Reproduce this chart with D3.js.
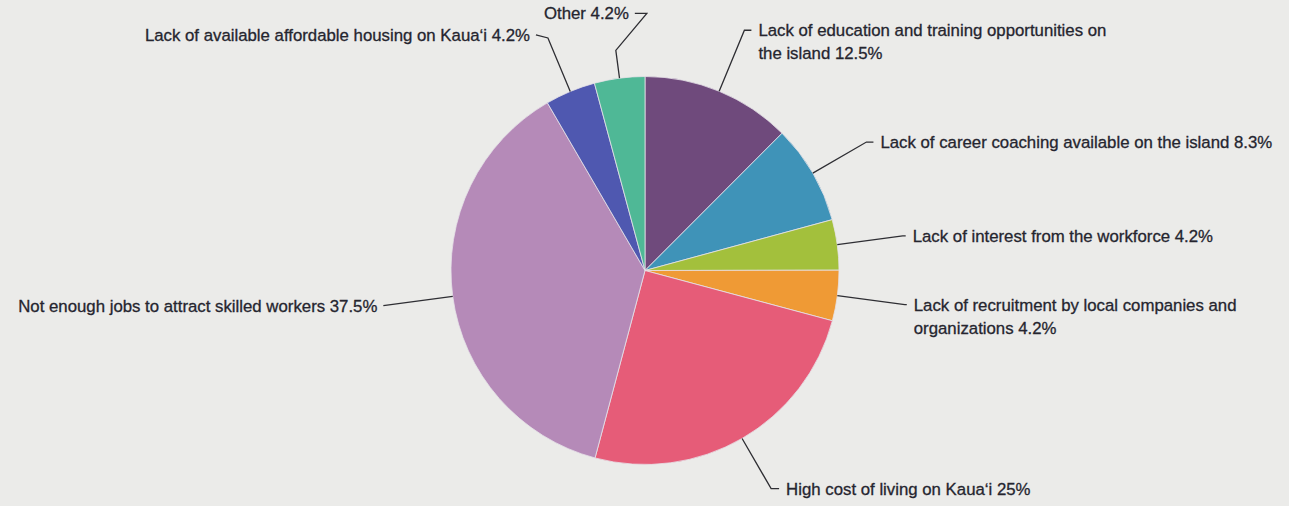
<!DOCTYPE html>
<html>
<head>
<meta charset="utf-8">
<script src="https://cdn.jsdelivr.net/npm/d3@7"></script>
<style>
  html, body { margin: 0; padding: 0; background: #ebebe9; }
  svg { display: block; }
  .label { font-family: "Liberation Sans", Arial, Helvetica, sans-serif; font-size: 16.8px; fill: #25252f; stroke: #25252f; stroke-width: 0.3; }
  .leader { fill: none; stroke: #2e2e33; stroke-width: 1.3; }
</style>
</head>
<body>
<svg id="chart"></svg>
<script>
(function(){

// data (clockwise from 12 o'clock)
var categories = [
  "Lack of education and training opportunities on\nthe island",
  "Lack of career coaching available on the island",
  "Lack of interest from the workforce",
  "Lack of recruitment by local companies and\norganizations",
  "High cost of living on Kauaʻi",
  "Not enough jobs to attract skilled workers",
  "Lack of available affordable housing on Kauaʻi",
  "Other"
];
var values = [12.5, 8.3, 4.2, 4.2, 25, 37.5, 4.2, 4.2];
var colors = ["#6f4a7c", "#3f93b8", "#a3c03c", "#ef9a35", "#e65c78", "#b58ab8", "#4f58b0", "#4fb896"];

// leader layout: elbow radius, then extra bends relative to the elbow
var leaders = [
  {r: 260, bends: [[7, 0]]},
  {r: 256, bends: [[7, 0]]},
  {r: 260, bends: [[3, 0]]},
  {r: 262, bends: [[2, 0]]},
  {r: 252, bends: [[8, 0]]},
  {r: 264, bends: [[0, 0]]},
  {r: 252, bends: [[-12, -3]]},
  {r: 222, bends: [[31, -37], [-12, 0]]}
];

var width = 1289, height = 506;
var cx = 645, cy = 270.5, radius = 194;

var svg = d3.select("#chart")
  .attr("width", width)
  .attr("height", height);

svg.append("rect")
  .attr("width", width)
  .attr("height", height)
  .attr("fill", "#ebebe9");

var g = svg.append("g")
  .attr("transform", "translate(" + cx + "," + cy + ")");

var pie = d3.pie().sort(null).value(function(d){ return d; });
var arcs = pie(values);

var arc = d3.arc().innerRadius(0).outerRadius(radius);
var edge = d3.arc().innerRadius(radius).outerRadius(radius);

g.selectAll("path.slice")
  .data(arcs)
  .enter().append("path")
  .attr("class", "slice")
  .attr("d", arc)
  .attr("fill", function(d, i){ return colors[i]; })
  .attr("stroke", "#e6e2e8")
  .attr("stroke-width", 0.8);

function polar(r, a) {
  return [r * Math.sin(a), -r * Math.cos(a)];
}

arcs.forEach(function(d, i) {
  var mid = (d.startAngle + d.endAngle) / 2;
  var p0 = edge.centroid(d);
  var p1 = polar(leaders[i].r, mid);
  var pts = [p0, p1];
  var last = p1;
  leaders[i].bends.forEach(function(b) {
    last = [last[0] + b[0], last[1] + b[1]];
    pts.push(last);
  });

  g.append("path")
    .attr("class", "leader")
    .attr("d", d3.line()(pts));

  // which way the text hangs
  var right = leaders[i].bends[leaders[i].bends.length - 1][0] >= 0 && mid < Math.PI;
  var lines = categories[i].split("\n");
  lines[lines.length - 1] += " " + values[i] + "%";

  var t = g.append("text")
    .attr("class", "label")
    .attr("x", last[0] + (right ? 7 : -6))
    .attr("y", last[1])
    .attr("text-anchor", right ? "start" : "end");

  lines.forEach(function(s, k) {
    t.append("tspan")
      .attr("x", last[0] + (right ? 7 : -6))
      .attr("dy", k === 0 ? "0.36em" : "1.38em")
      .text(s);
  });
});

})();
</script>
</body>
</html>
